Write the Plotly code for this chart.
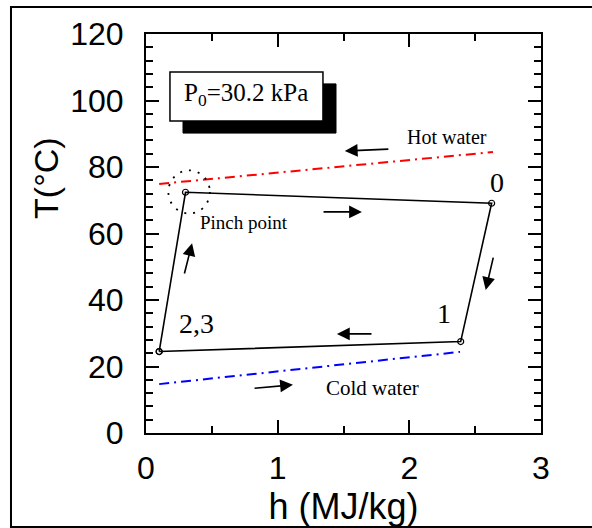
import plotly.graph_objects as go

# ---- data ----
cycle_h = [0.10, 0.30, 2.625, 2.39, 0.10]          # 2,3 -> pinch -> 0 -> 1 -> 2,3
cycle_T = [24.5, 72.4, 69.1, 27.5, 24.5]
hot_h = [0.10, 2.635]
hot_T = [74.9, 84.5]
cold_h = [0.10, 2.385]
cold_T = [14.7, 24.4]
x_ticks = [0, 1, 2, 3]
y_ticks = [0, 20, 40, 60, 80, 100, 120]

SERIF = "Liberation Serif, Times New Roman, serif"
SANS = "Liberation Sans, Arial, sans-serif"

fig = go.Figure()
fig.add_trace(go.Scatter(x=hot_h, y=hot_T, mode="lines",
                         line=dict(color="#ff0000", width=2, dash="10px,5px,2px,5px"),
                         hoverinfo="skip"))
fig.add_trace(go.Scatter(x=cold_h, y=cold_T, mode="lines",
                         line=dict(color="#0000ff", width=2, dash="10px,5px,2px,5px"),
                         hoverinfo="skip"))
fig.add_trace(go.Scatter(x=cycle_h, y=cycle_T, mode="lines+markers",
                         line=dict(color="black", width=1.6),
                         marker=dict(symbol="circle-open", size=6, color="black",
                                     line=dict(width=1.2)),
                         hoverinfo="skip"))
# invisible trace on the mirrored tick axes
fig.add_trace(go.Scatter(x=[hot_h[0]], y=[hot_T[0]], xaxis="x2", yaxis="y2", mode="markers",
                         marker=dict(opacity=0), hoverinfo="skip"))

shapes = []
shapes.append(dict(type="circle", xref="x", yref="y", x0=0.17, x1=0.485, y0=66.0, y1=79.0,
                   line=dict(color="black", width=1.8, dash="2px,7px")))
shapes.append(dict(type="rect", xref="x", yref="y", x0=0.281, x1=1.443, y0=90.2, y1=105.0,
                   fillcolor="black", line=dict(color="black", width=1)))
shapes.append(dict(type="rect", xref="x", yref="y", x0=0.182, x1=1.344, y0=93.8, y1=108.6,
                   fillcolor="white", line=dict(color="black", width=1.5)))
shapes.append(dict(type="rect", xref="paper", yref="paper", x0=-0.3418, x1=1.16, y0=-0.2356, y1=1.0677,
                   line=dict(color="black", width=2), fillcolor="rgba(0,0,0,0)"))

ann = []
def txt(x, y, s, size, font=SERIF):
    ann.append(dict(x=x, y=y, xref="x", yref="y", text=s, showarrow=False,
                    font=dict(family=font, size=size, color="black"),
                    xanchor="center", yanchor="middle"))

txt(0.759, 101.7, "P<sub>0</sub>=30.2 kPa", 25)
txt(2.285, 89.0, "Hot water", 20)
txt(2.665, 75.2, "0", 28)
txt(0.744, 63.4, "Pinch point", 19)
txt(0.38, 33.0, "2,3", 28)
txt(2.26, 35.8, "1", 28)
txt(1.724, 13.5, "Cold water", 21)

def arrow(hx, hy, tx, ty):
    ann.append(dict(x=hx, y=hy, ax=tx, ay=ty, xref="x", yref="y", axref="x", ayref="y",
                    showarrow=True, arrowhead=2, arrowsize=1.6, arrowwidth=1.6,
                    arrowcolor="black", text=""))

arrow(1.51, 84.8, 1.852, 85.4)     # hot water
arrow(1.64, 66.5, 1.337, 66.5)     # top of cycle
arrow(2.58, 43.0, 2.64, 53.2)      # right side
arrow(1.45, 29.8, 1.724, 29.8)     # bottom
arrow(0.35, 57.1, 0.289, 47.5)     # left side
arrow(1.116, 14.5, 0.813, 13.4)    # cold water

ann.append(dict(x=-0.255, y=0.64, xref="paper", yref="paper", text="T(°C)", textangle=-90,
                showarrow=False, font=dict(family=SANS, size=34, color="black"),
                xanchor="center", yanchor="middle"))

axis_common = dict(ticks="inside", ticklen=13, tickwidth=1.5, tickcolor="black",
                   showline=True, linecolor="black", linewidth=2, showgrid=False, zeroline=False)

fig.update_layout(
    width=592, height=528,
    margin=dict(l=146, r=51, t=34, b=95),
    paper_bgcolor="white", plot_bgcolor="white",
    showlegend=False,
    shapes=shapes, annotations=ann,
    xaxis=dict(range=[0, 3], tickvals=x_ticks, mirror="ticks",
               minor=dict(dtick=0.5, ticks="inside", ticklen=7, tickwidth=1.5, tickcolor="black",
                          showgrid=False),
               tickfont=dict(family=SANS, size=32, color="black"), ticklabelstandoff=6,
               title=dict(text="h (MJ/kg)", font=dict(family=SANS, size=36, color="black"),
                          standoff=2),
               **axis_common),
    yaxis=dict(range=[0, 120], tickvals=y_ticks, mirror="ticks",
               minor=dict(dtick=4, ticks="inside", ticklen=7, tickwidth=1.5, tickcolor="black",
                          showgrid=False),
               tickfont=dict(family=SANS, size=32, color="black"), ticklabelstandoff=14,
               **axis_common),
    xaxis2=dict(range=[0, 3], tickvals=x_ticks, overlaying="x", side="top", showticklabels=False,
                minor=dict(dtick=0.5, ticks="inside", ticklen=7, tickwidth=1.5, tickcolor="black",
                           showgrid=False),
                **axis_common),
    yaxis2=dict(range=[0, 120], tickvals=y_ticks, overlaying="y", side="right", showticklabels=False,
                minor=dict(dtick=4, ticks="inside", ticklen=7, tickwidth=1.5, tickcolor="black",
                           showgrid=False),
                **axis_common),
)

fig.write_html("out.html")
